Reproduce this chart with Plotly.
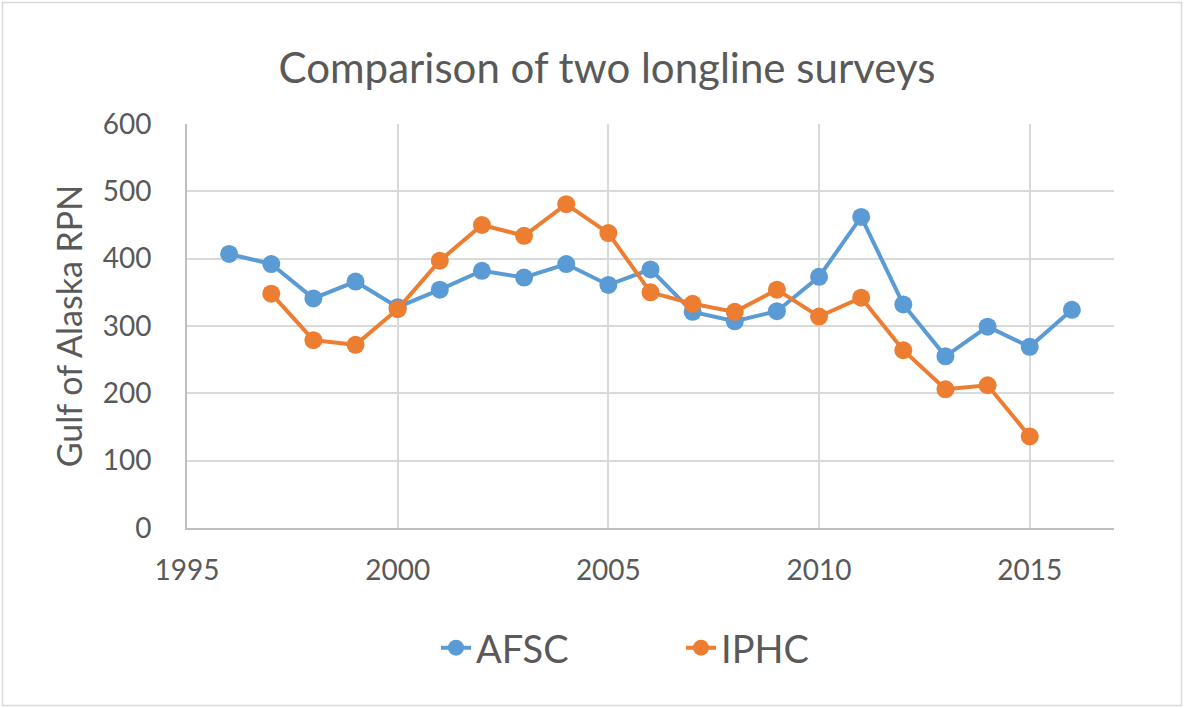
import plotly.graph_objects as go

years_afsc = list(range(1996, 2017))
afsc = [407, 392, 341, 366, 328, 354, 382, 372, 392, 361, 384, 321, 307, 322, 373, 462, 332, 255, 299, 269, 324]
years_iphc = list(range(1997, 2016))
iphc = [348, 279, 272, 325, 397, 450, 434, 481, 438, 350, 333, 321, 354, 314, 342, 264, 206, 212, 136]

title = "Comparison of two longline surveys"
ytitle = "Gulf of Alaska RPN"

W, H = 1184, 708
L, R, T, B = 187, 70, 124, 180
FONT = "Lato"
TXT = "#595959"
GRID = "#D9D9D9"
AXIS = "#BFBFBF"

fig = go.Figure()
fig.add_trace(go.Scatter(x=years_afsc, y=afsc, name="AFSC", mode="lines+markers",
                         line=dict(color="#5B9BD5", width=4),
                         marker=dict(color="#5B9BD5", size=18)))
fig.add_trace(go.Scatter(x=years_iphc, y=iphc, name="IPHC", mode="lines+markers",
                         line=dict(color="#ED7D31", width=4),
                         marker=dict(color="#ED7D31", size=18)))

pw, ph = W - L - R, H - T - B
def px(x):
    return (x - L) / pw
def py(y):
    return (H - B - y) / ph

fig.add_shape(type="rect", xref="paper", yref="paper",
              x0=px(2.5), x1=px(W - 2.5), y0=py(H - 2.5), y1=py(2.5),
              line=dict(color="#D9D9D9", width=1.5), layer="below")

fig.update_layout(
    width=W, height=H,
    margin=dict(l=L, r=R, t=T, b=B),
    paper_bgcolor="white", plot_bgcolor="white",
    font=dict(family=FONT, color=TXT),
    title=dict(text=title, xref="paper", x=px(607), xanchor="center",
               yref="container", y=1 - 68 / H, yanchor="middle",
               font=dict(family=FONT, size=42, color=TXT)),
    xaxis=dict(range=[1995, 2017], dtick=5, tick0=1995, showgrid=True, gridcolor=GRID, gridwidth=2,
               zeroline=False, showline=True, linecolor=AXIS, linewidth=2,
               ticks="", tickfont=dict(size=28, color=TXT), ticklabelstandoff=16),
    yaxis=dict(range=[0, 600], dtick=100, showgrid=True, gridcolor=GRID, gridwidth=2,
               zeroline=False, showline=True, linecolor=AXIS, linewidth=2, ticks="",
               tickfont=dict(size=28, color=TXT), ticklabelstandoff=28,
               title=dict(text=ytitle, font=dict(size=34, color=TXT), standoff=10)),
    legend=dict(orientation="h", x=px(436), xanchor="left", y=py(648), yanchor="middle",
                font=dict(size=38, color=TXT), entrywidth=200, entrywidthmode="pixels"),
    showlegend=True,
)

fig.write_html("out.html", config={"displayModeBar": False},
               post_script="document.body.style.margin='0';document.body.style.padding='0';")
